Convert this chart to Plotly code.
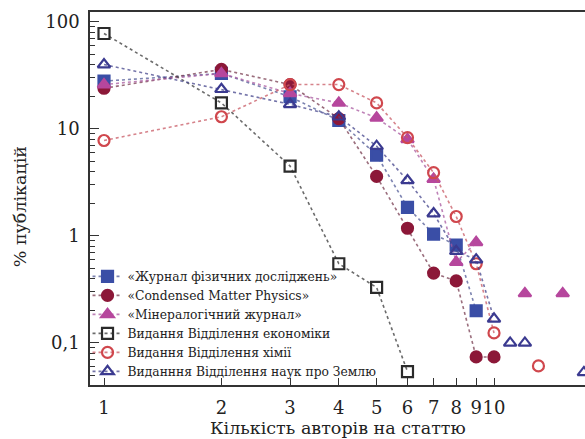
import plotly.graph_objects as go

# ---- data ----
names = [
    "«Журнал фізичних досліджень»",
    "«Condensed Matter Physics»",
    "«Мінералогічний журнал»",
    "Видання Відділення економіки",
    "Видання Відділення хімії",
    "Виданння Відділення наук про Землю",
]

# None = gap (points after a gap are not joined by a line)
phys_x = [1, 2, 3, 4, 5, 6, 7, 8, 9]
phys_y = [28, 33, 20, 12, 5.7, 1.85, 1.04, 0.82, 0.20]

cmp_x = [1, 2, 3, 4, 5, 6, 7, 8, 9, 10]
cmp_y = [24, 36, 26, 12.5, 3.6, 1.18, 0.45, 0.38, 0.074, 0.074]

min_x = [1, 2, 3, 4, 5, 6, 7, 8, 9, None, 12, None, 15]
min_y = [26, 33, 21.5, 17.5, 12.7, 8.0, 3.4, 0.57, 0.87, None, 0.29, None, 0.29]

econ_x = [1, 2, 3, 4, 5, 6]
econ_y = [78, 17.5, 4.5, 0.55, 0.33, 0.054]

chem_x = [1, 2, 3, 4, 5, 6, 7, 8, 9, 10, None, 13]
chem_y = [7.8, 13, 26, 26, 17.5, 8.3, 3.9, 1.52, 0.55, 0.124, None, 0.061]

earth_x = [1, 2, 3, 4, 5, 6, 7, 8, 9, 10, None, 11, None, 12, None, 17]
earth_y = [40, 23.5, 17, 13, 6.9, 3.3, 1.62, 0.72, 0.60, 0.168, None, 0.10, None, 0.10, None, 0.053]

x_ticks = [1, 2, 3, 4, 5, 6, 7, 8, 9, 10]
x_ticktext = ["1", "2", "3", "4", "5", "6", "7", "8", "9", "10"]
y_ticks = [0.1, 1, 10, 100]
y_ticktext = ["0,1", "1", "10", "100"]
y_minor = [0.05, 0.06, 0.07, 0.08, 0.09,
           0.2, 0.3, 0.4, 0.5, 0.6, 0.7, 0.8, 0.9,
           2, 3, 4, 5, 6, 7, 8, 9,
           20, 30, 40, 50, 60, 70, 80, 90]

x_title = "Кількість авторів на статтю"
y_title = "% публікацій"

# ---- styles ----
series = [
    (phys_x, phys_y, names[0], "square", "#3a4ea6", "#3a4ea6", "rgba(80,90,150,0.75)"),
    (cmp_x, cmp_y, names[1], "circle", "#8c1838", "#8c1838", "rgba(120,60,80,0.75)"),
    (min_x, min_y, names[2], "triangle-up", "#b6479d", "#b6479d", "rgba(170,90,160,0.75)"),
    (econ_x, econ_y, names[3], "square-open", "#2b2b2b", "#2b2b2b", "rgba(70,70,70,0.8)"),
    (chem_x, chem_y, names[4], "circle-open", "#d0474d", "#d0474d", "rgba(200,90,100,0.75)"),
    (earth_x, earth_y, names[5], "triangle-up-open", "#3b3a90", "#3b3a90", "rgba(70,70,140,0.75)"),
]

fig = go.Figure()
for xs, ys, nm, sym, mcol, mline, lcol in series:
    fig.add_trace(go.Scatter(
        x=xs, y=ys, name=nm, mode="lines+markers",
        connectgaps=False,
        line=dict(color=lcol, width=1.6, dash="dot"),
        marker=dict(symbol=sym, size=11, color=mcol,
                    line=dict(color=mline, width=2.2)),
    ))

serif = "DejaVu Serif"
txt = "#222"

fig.update_layout(
    width=585, height=439,
    margin=dict(l=90, r=0, t=12, b=54, autoexpand=False),
    paper_bgcolor="white", plot_bgcolor="white",
    font=dict(family=serif, color=txt, size=17),
    showlegend=True,
    legend=dict(
        x=-0.005, y=0.33, xanchor="left", yanchor="top",
        bgcolor="rgba(0,0,0,0)", borderwidth=0,
        font=dict(family=serif, size=12.3, color=txt),
        tracegroupgap=0, itemwidth=30,
    ),
    xaxis=dict(
        type="log", range=[-0.0359, 1.2333], automargin=False,
        tickmode="array", tickvals=x_ticks, ticktext=x_ticktext, tickangle=0,
        ticks="inside", ticklen=7, tickwidth=1.2, tickcolor="#333",
        showline=True, linecolor="#333", linewidth=1.5, mirror=True,
        showgrid=False, zeroline=False,
        tickfont=dict(family=serif, size=18, color=txt),
        ticklabelstandoff=6,
    ),
    yaxis=dict(
        type="log", range=[-1.393, 2.093], automargin=False,
        tickmode="array", tickvals=y_ticks, ticktext=y_ticktext,
        ticks="inside", ticklen=9, tickwidth=1.2, tickcolor="#333",
        minor=dict(tickmode="array", tickvals=y_minor,
                   ticks="inside", ticklen=5, tickwidth=1, tickcolor="#333"),
        showline=True, linecolor="#333", linewidth=1.5, mirror=False,
        showgrid=False, zeroline=False,
        tickfont=dict(family=serif, size=18, color=txt),
        ticklabelstandoff=5,
    ),
    annotations=[
        dict(text=x_title, xref="paper", yref="paper", x=0.5, y=-0.115,
             xanchor="center", yanchor="middle", showarrow=False,
             font=dict(family=serif, size=17.5, color=txt)),
        dict(text=y_title, xref="paper", yref="paper", x=-0.141, y=0.477,
             xanchor="center", yanchor="middle", textangle=-90, showarrow=False,
             font=dict(family=serif, size=17.5, color=txt)),
    ],
)

fig.write_html("out.html",
               config={"displayModeBar": False},
               post_script="document.body.style.margin='0px';document.body.style.overflow='hidden';")
